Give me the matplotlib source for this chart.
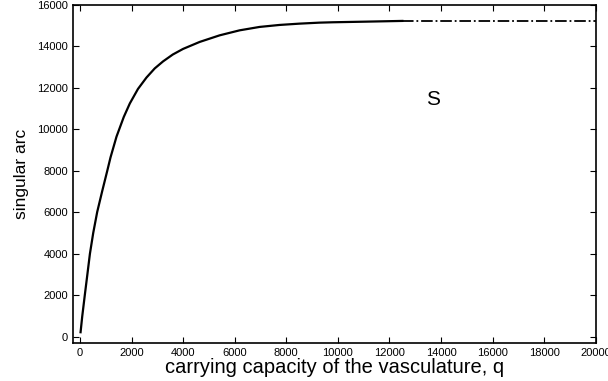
import numpy as np
import matplotlib
matplotlib.use('Agg')
import matplotlib.pyplot as plt

plt.rcParams['font.family'] = ['Liberation Sans', 'DejaVu Sans']

# singular arc vs carrying capacity q
q_solid = [25, 90, 193, 283, 387, 516, 670, 863, 1057, 1186, 1418, 1700,
           1934, 2250, 2580, 2900, 3224, 3600, 3998, 4642, 5416, 6190,
           6963, 7737, 8511, 9284, 9800, 11091, 12500]
arc_solid = [220, 990, 2050, 2950, 4000, 5010, 6020, 7020, 7990, 8650,
             9650, 10600, 11250, 11950, 12500, 12940, 13280, 13610, 13880,
             14217, 14535, 14776, 14940, 15036, 15099, 15147, 15165, 15195,
             15230]
# continuation beyond the solid part
q_dash = [12500, 20000]
arc_dash = [15230, 15230]

fig = plt.figure(figsize=(6.08, 3.81), dpi=100)
ax = fig.add_axes([0.12, 0.0997, 0.86, 0.8873])
ax.plot(q_solid, arc_solid, color='black', lw=1.6, solid_joinstyle='round')
ax.plot(q_dash, arc_dash, color='black', lw=1.3, linestyle='-.')

ax.set_xlim(-270, 20000)
ax.set_ylim(-300, 16000)
ax.set_xticks(np.arange(0, 20001, 2000))
ax.set_yticks(np.arange(0, 16001, 2000))
ax.tick_params(direction='in', top=True, right=True, labelsize=8, length=4, width=0.8)
for s in ax.spines.values():
    s.set_linewidth(1.2)

ax.text(13700, 11420, 'S', fontsize=15, ha='center', va='center')
ax.set_xlabel('carrying capacity of the vasculature, q', fontsize=14.5, labelpad=0)
ax.set_ylabel('singular arc', fontsize=12.5, labelpad=6)

fig.savefig('out.png', dpi=100)
